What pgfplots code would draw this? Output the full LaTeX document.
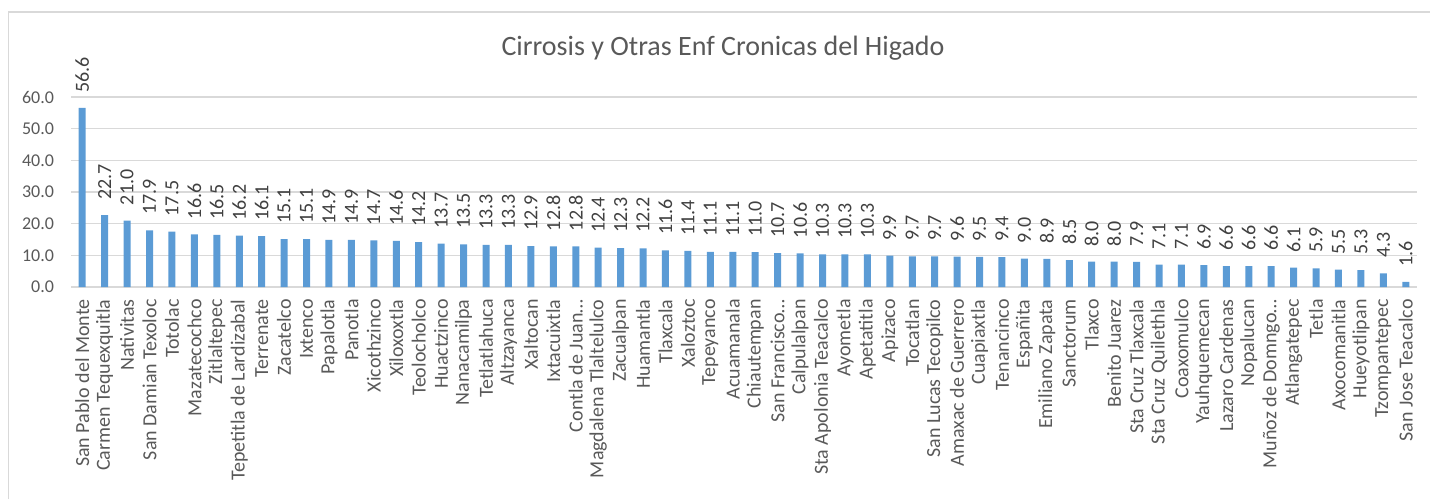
\documentclass[border=0pt]{standalone}
\usepackage{fontspec}
\setmainfont{Carlito}
\usepackage{pgfplots}
\pgfplotsset{compat=1.18}
\definecolor{barblue}{HTML}{5B9BD5}
\definecolor{gridgray}{HTML}{D9D9D9}
\definecolor{txtgray}{HTML}{595959}
\definecolor{lblgray}{HTML}{404040}
\begin{document}
\begin{tikzpicture}
\useasboundingbox (0,0) rectangle (715pt,250pt);
\draw[gridgray, line width=0.8pt] (4.25pt,0.5pt) -- (4.25pt,244pt) -- (715pt,244pt);
\node[txtgray, font=\fontsize{14}{16}\selectfont] at (361.5pt,226pt) {Cirrosis y Otras Enf Cronicas del Higado};
\begin{axis}[
  at={(35.5pt,106.5pt)}, anchor=south west,
  scale only axis, width=673pt, height=95pt,
  xmin=-0.5, xmax=59.5, ymin=0, ymax=60,
  ybar, bar width=3.5pt,
  axis line style={draw=none},
  axis x line*=bottom,
  x axis line style={draw=gridgray, line width=0.8pt},
  ytick={0,10,20,30,40,50,60},
  ymajorgrids, grid style={gridgray, line width=0.8pt},
  major tick length=0pt,
  yticklabel style={font=\fontsize{9}{11}\selectfont, text=txtgray, xshift=-5pt},
  /pgf/number format/assume math mode=true,
  yticklabel={\pgfmathprintnumber[fixed, fixed zerofill, precision=1]{\tick}},
  xtick=data,
  xticklabels={San Pablo del Monte,Carmen Tequexquitla,Nativitas,San Damian Texoloc,Totolac,Mazatecochco,Zitlaltepec,Tepetitla de Lardizabal,Terrenate,Zacatelco,Ixtenco,Papalotla,Panotla,Xicothzinco,Xiloxoxtla,Teolocholco,Huactzinco,Nanacamilpa,Tetlatlahuca,Altzayanca,Xaltocan,Ixtacuixtla,Contla de Juan…,Magdalena Tlaltelulco,Zacualpan,Huamantla,Tlaxcala,Xaloztoc,Tepeyanco,Acuamanala,Chiautempan,San Francisco…,Calpulalpan,Sta Apolonia Teacalco,Ayometla,Apetatitla,Apizaco,Tocatlan,San Lucas Tecopilco,Amaxac de Guerrero,Cuapiaxtla,Tenancinco,Españita,Emiliano Zapata,Sanctorum,Tlaxco,Benito Juarez,Sta Cruz Tlaxcala,Sta Cruz Quilethla,Coaxomulco,Yauhquemecan,Lazaro Cardenas,Nopalucan,Muñoz de Domngo…,Atlangatepec,Tetla,Axocomanitla,Hueyotlipan,Tzompantepec,San Jose Teacalco},
  xticklabel style={rotate=90, anchor=east, font=\fontsize{10}{12}\selectfont, text=txtgray, xshift=-5pt, inner sep=1pt},
  nodes near coords={\pgfmathprintnumber[fixed, fixed zerofill, precision=1, assume math mode=true]{\pgfplotspointmeta}},
  every node near coord/.append style={rotate=90, anchor=west, inner sep=0pt, font=\fontsize{10}{12}\selectfont, text=lblgray, xshift=7.5pt},
  clip=false,
]
\addplot[fill=barblue, draw=none] coordinates {
(0,56.6) (1,22.7) (2,21.0) (3,17.9) (4,17.5) (5,16.6) (6,16.5) (7,16.2) (8,16.1) (9,15.1)
(10,15.1) (11,14.9) (12,14.9) (13,14.7) (14,14.6) (15,14.2) (16,13.7) (17,13.5) (18,13.3) (19,13.3)
(20,12.9) (21,12.8) (22,12.8) (23,12.4) (24,12.3) (25,12.2) (26,11.6) (27,11.4) (28,11.1) (29,11.1)
(30,11.0) (31,10.7) (32,10.6) (33,10.3) (34,10.3) (35,10.3) (36,9.9) (37,9.7) (38,9.7) (39,9.6)
(40,9.5) (41,9.4) (42,9.0) (43,8.9) (44,8.5) (45,8.0) (46,8.0) (47,7.9) (48,7.1) (49,7.1)
(50,6.9) (51,6.6) (52,6.6) (53,6.6) (54,6.1) (55,5.9) (56,5.5) (57,5.3) (58,4.3) (59,1.6)
};
\end{axis}
\end{tikzpicture}
\end{document}
